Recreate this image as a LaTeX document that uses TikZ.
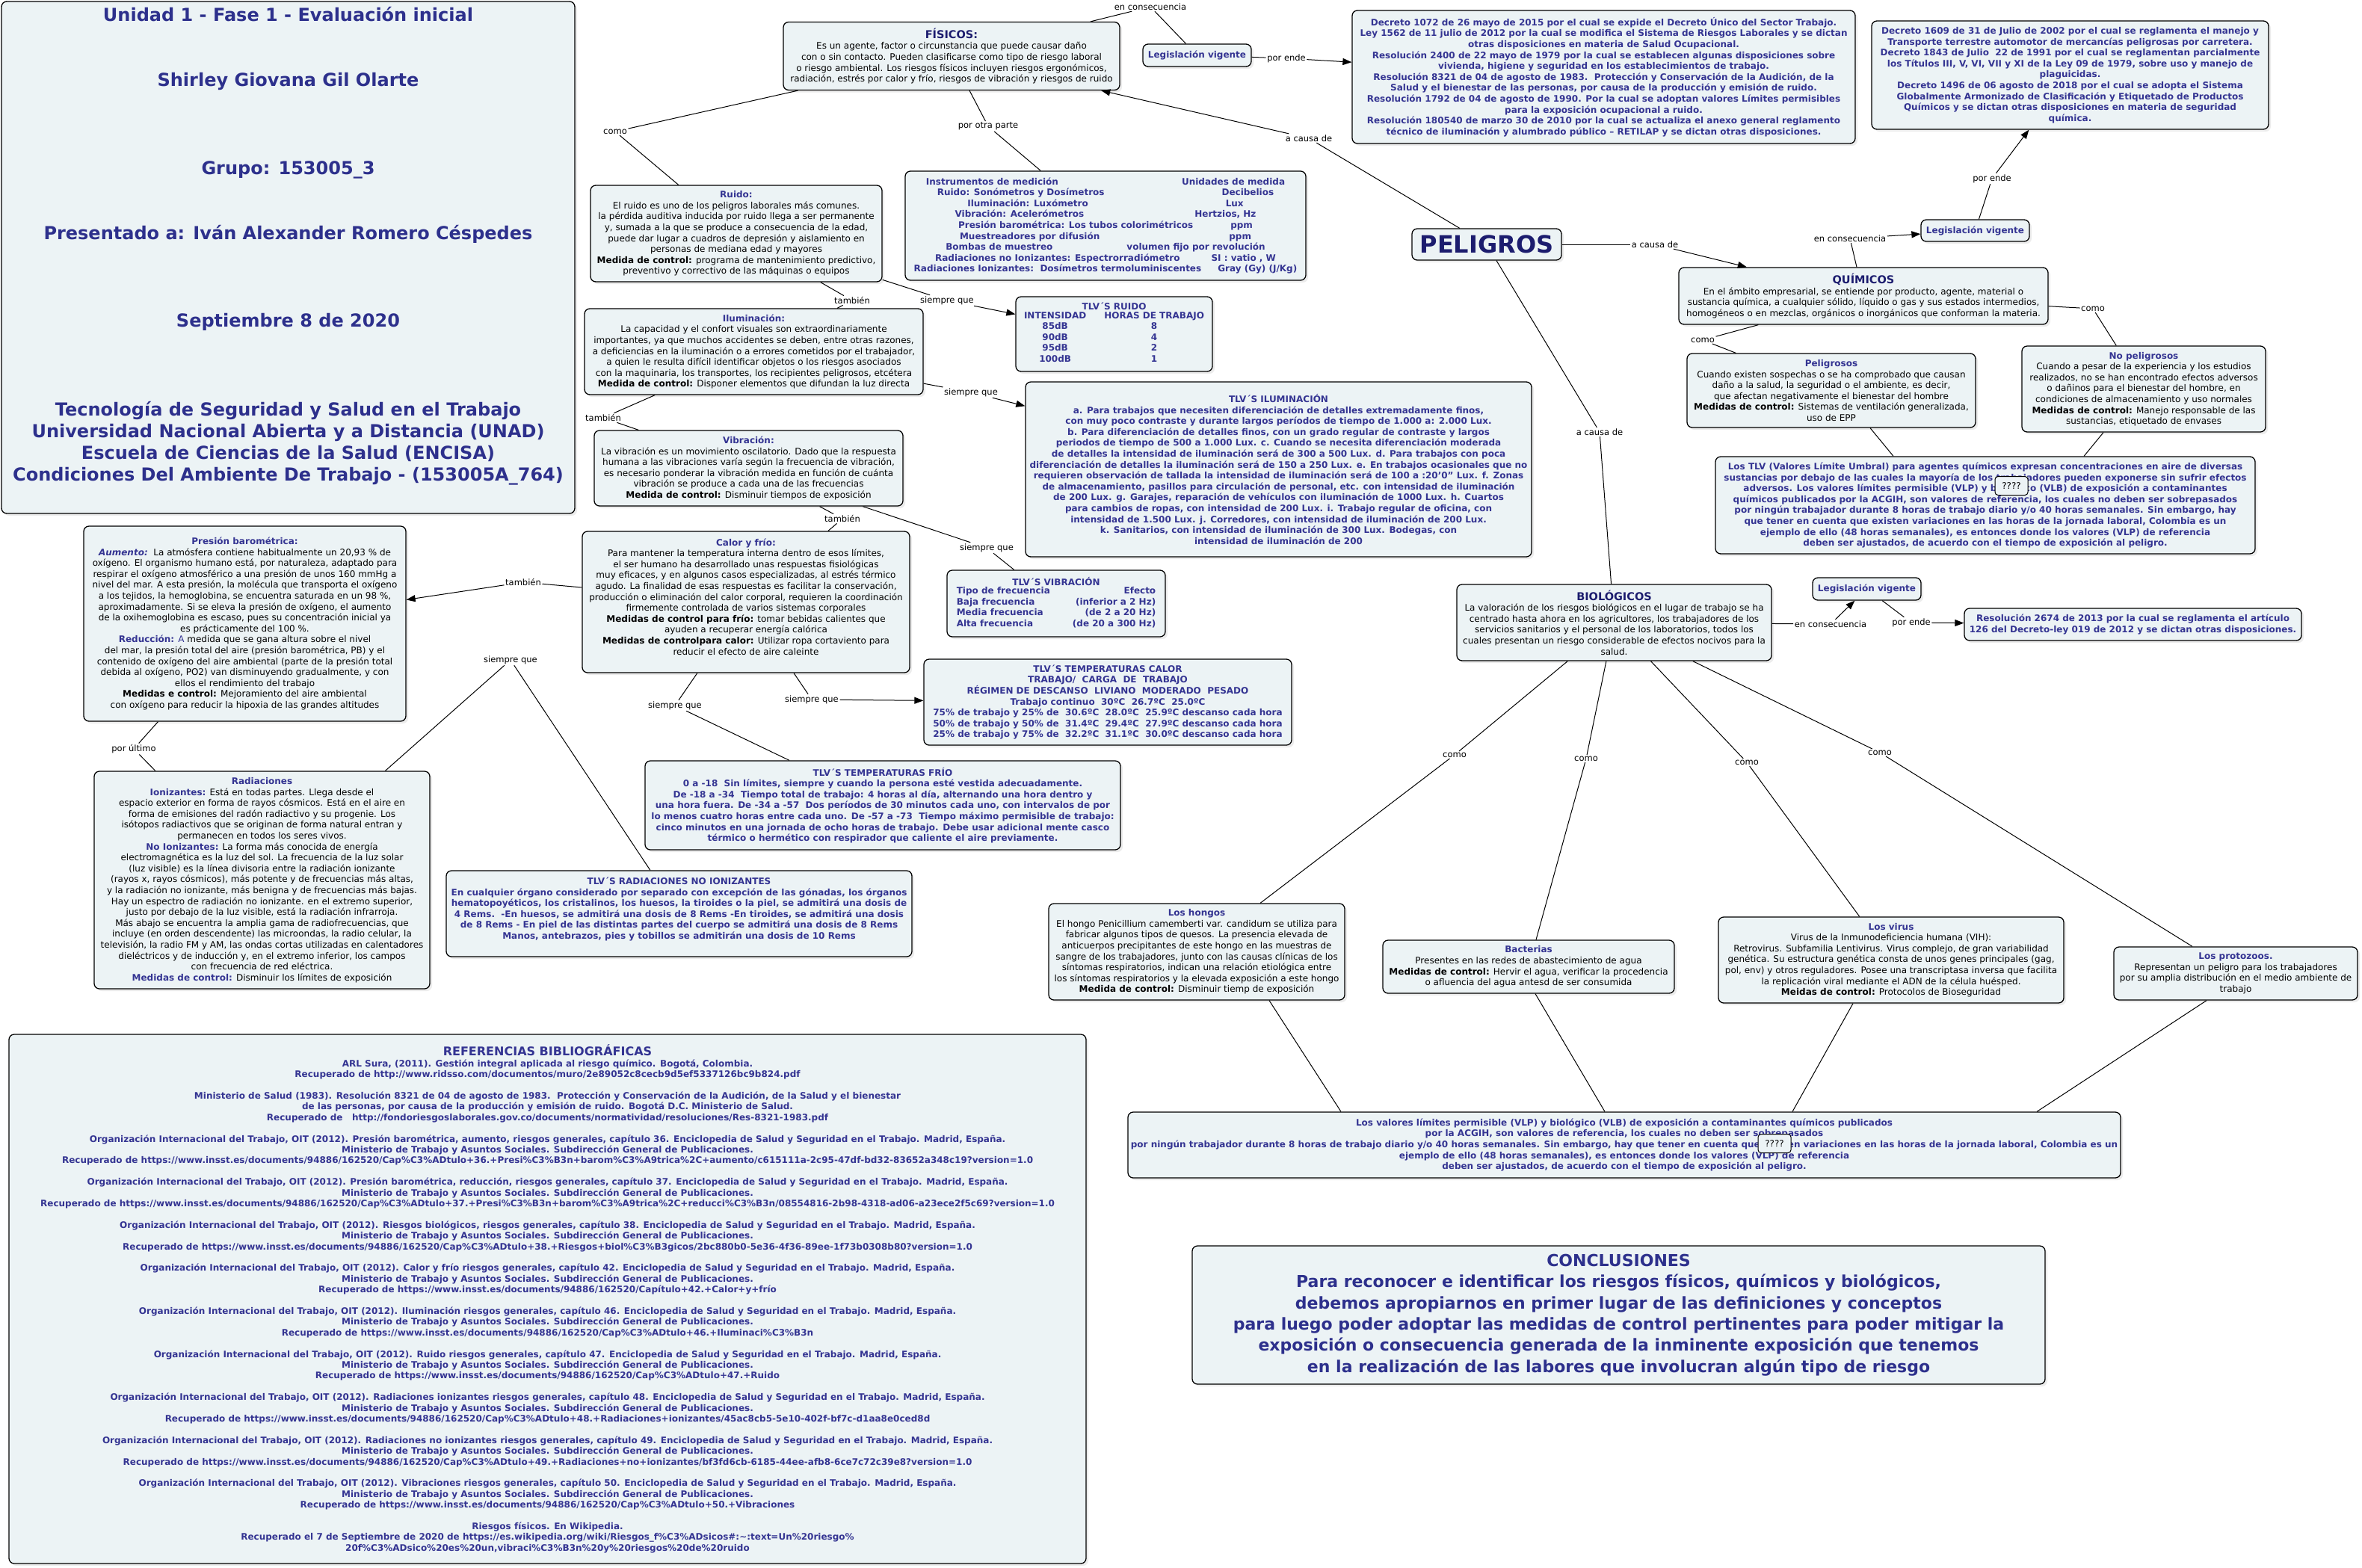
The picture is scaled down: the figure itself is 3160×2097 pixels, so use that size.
\documentclass[tikz,border=0pt]{standalone}
\usepackage{fontspec}
\setmainfont{DejaVu Sans}
\usetikzlibrary{arrows.meta,shadows}
\definecolor{boxfill}{RGB}{236,243,245}
\definecolor{navy}{RGB}{28,28,110}
\definecolor{tblue}{RGB}{52,52,146}
\definecolor{hblue}{RGB}{45,48,140}
\newcommand{\tbl}[1]{\textcolor{tblue}{\textbf{#1}}}
\newcommand{\ntit}[1]{{\fontsize{14.5}{16}\selectfont\textcolor{navy}{\textbf{#1}}}}
\tikzset{
 cbox/.style={draw=black, line width=1.3pt, rounded corners=7pt, fill=boxfill, align=center, inner sep=3pt,
   text=black, font=\fontsize{12}{14.6}\selectfont,
   drop shadow={shadow xshift=3pt, shadow yshift=-3pt, opacity=0.15}},
 bbox/.style={cbox, text=tblue, font=\fontsize{12}{14.6}\selectfont\bfseries},
 lbl/.style={font=\fontsize{11.5}{13}\selectfont, inner sep=1.5pt, text=black},
 conn/.style={draw=black, line width=1pt},
 arr/.style={conn, -{Triangle[length=12pt,width=9pt]}},
 qbox/.style={draw=black, line width=1pt, rounded corners=4pt, fill=boxfill, inner sep=2pt,
   minimum width=44pt, minimum height=25pt, font=\fontsize{12}{14}\selectfont},
}
\begin{document}
\begin{tikzpicture}[x=1pt,y=-1pt]
\fill[white] (0,0) rectangle (3160,2097);
\useasboundingbox (0,0) rectangle (3160,2097);

% ---------- header ----------
\node[cbox, minimum width=767pt, minimum height=685pt] (hdr) at (385.5,344.5) {};
\node[font=\fontsize{24}{29}\selectfont\bfseries, text=hblue, align=center] (hdrt) at (385.5,329) {Unidad 1 - Fase 1 - Evaluación inicial\\[58pt] Shirley Giovana Gil Olarte\\[89pt] Grupo: 153005\_3\\[58pt] Presentado a: Iván Alexander Romero Céspedes\\[88pt] Septiembre 8 de 2020\\[90pt] Tecnología de Seguridad y Salud en el Trabajo\\ Universidad Nacional Abierta y a Distancia (UNAD)\\ Escuela de Ciencias de la Salud (ENCISA)\\ Condiciones Del Ambiente De Trabajo - (153005A\_764)};

% ---------- central ----------
\node[cbox, minimum width=200pt, minimum height=42pt, font=\fontsize{32}{36}\selectfont\bfseries, text=navy, inner sep=2pt] (pel) at (1989,327) {PELIGROS};

% ---------- FISICOS branch ----------
\node[cbox, minimum width=450pt, minimum height=91pt] (fis) at (1273,75) {\ntit{FÍSICOS:}\\ Es un agente, factor o circunstancia que puede causar daño\\ con o sin contacto. Pueden clasificarse como tipo de riesgo laboral\\ o riesgo ambiental. Los riesgos físicos incluyen riesgos ergonómicos,\\ radiación, estrés por calor y frío, riesgos de vibración y riesgos de ruido};

\node[bbox, minimum width=145pt, minimum height=30pt] (leg1) at (1601.5,74) {Legislación vigente};

\node[bbox, minimum width=673pt, minimum height=178pt] (dec1) at (2145.5,103) {Decreto 1072 de 26 mayo de 2015 por el cual se expide el Decreto Único del Sector Trabajo.\\ Ley 1562 de 11 julio de 2012 por la cual se modifica el Sistema de Riesgos Laborales y se dictan\\ otras disposiciones en materia de Salud Ocupacional.\\ Resolución 2400 de 22 mayo de 1979 por la cual se establecen algunas disposiciones sobre\\ vivienda, higiene y seguridad en los establecimientos de trabajo.\\ Resolución 8321 de 04 de agosto de 1983.\ \ Protección y Conservación de la Audición, de la\\ Salud y el bienestar de las personas, por causa de la producción y emisión de ruido.\\ Resolución 1792 de 04 de agosto de 1990. Por la cual se adoptan valores Límites permisibles\\ para la exposición ocupacional a ruido.\\ Resolución 180540 de marzo 30 de 2010 por la cual se actualiza el anexo general reglamento\\ técnico de iluminación y alumbrado público – RETILAP y se dictan otras disposiciones.};

\node[cbox, minimum width=390pt, minimum height=129pt] (ruido) at (985,312.5) {\tbl{Ruido:}\\ El ruido es uno de los peligros laborales más comunes.\\ la pérdida auditiva inducida por ruido llega a ser permanente\\ y, sumada a la que se produce a consecuencia de la edad,\\ puede dar lugar a cuadros de depresión y aislamiento en\\ personas de mediana edad y mayores\\ \textbf{Medida de control:} programa de mantenimiento predictivo,\\ preventivo y correctivo de las máquinas o equipos};

\node[bbox, minimum width=536pt, minimum height=146pt] (instr) at (1479,302) {Instrumentos de medición\hspace{165pt}Unidades de medida\\ Ruido: Sonómetros y Dosímetros\hspace{157pt}Decibelios\\ Iluminación: Luxómetro\hspace{184pt}Lux\\ Vibración: Acelerómetros\hspace{148pt}Hertzios, Hz\\ Presión barométrica: Los tubos colorimétricos\hspace{50pt}ppm\\ Muestreadores por difusión\hspace{173pt}ppm\\ Bombas de muestreo\hspace{99pt}volumen fijo por revolución\\ Radiaciones no Ionizantes: Espectrorradiómetro\hspace{42pt}SI : vatio , W\\ Radiaciones Ionizantes:\ \ Dosímetros termoluminiscentes\hspace{22pt}Gray (Gy) (J/Kg)};

\node[bbox, minimum width=263pt, minimum height=100pt] (tlvr) at (1490.5,447) {TLV´S RUIDO\\ \begin{tabular}{@{}c@{\hspace{24pt}}c@{}}INTENSIDAD & HORAS DE TRABAJO\\ 85dB & 8\\ 90dB & 4\\ 95dB & 2\\ 100dB & 1\end{tabular}};

\node[cbox, minimum width=453pt, minimum height=115pt] (ilum) at (1008.5,470.5) {\tbl{Iluminación:}\\ La capacidad y el confort visuales son extraordinariamente\\ importantes, ya que muchos accidentes se deben, entre otras razones,\\ a deficiencias en la iluminación o a errores cometidos por el trabajador,\\ a quien le resulta difícil identificar objetos o los riesgos asociados\\ con la maquinaria, los transportes, los recipientes peligrosos, etcétera\\ \textbf{Medida de control:} Disponer elementos que difundan la luz directa};

\node[bbox, minimum width=677pt, minimum height=234pt] (tlvi) at (1710.5,628) {TLV´S ILUMINACIÓN\\ a. Para trabajos que necesiten diferenciación de detalles extremadamente finos,\\ con muy poco contraste y durante largos períodos de tiempo de 1.000 a: 2.000 Lux.\\ b. Para diferenciación de detalles finos, con un grado regular de contraste y largos\\ periodos de tiempo de 500 a 1.000 Lux. c. Cuando se necesita diferenciación moderada\\ de detalles la intensidad de iluminación será de 300 a 500 Lux. d. Para trabajos con poca\\ diferenciación de detalles la iluminación será de 150 a 250 Lux. e. En trabajos ocasionales que no\\ requieren observación de tallada la intensidad de iluminación será de 100 a :20'0" Lux. f. Zonas\\ de almacenamiento, pasillos para circulación de personal, etc. con intensidad de iluminación\\ de 200 Lux. g. Garajes, reparación de vehículos con iluminación de 1000 Lux. h. Cuartos\\ para cambios de ropas, con intensidad de 200 Lux. i. Trabajo regular de oficina, con\\ intensidad de 1.500 Lux. j. Corredores, con intensidad de iluminación de 200 Lux.\\ k. Sanitarios, con intensidad de iluminación de 300 Lux. Bodegas, con\\ intensidad de iluminación de 200};

\node[cbox, minimum width=413pt, minimum height=101pt] (vib) at (1001.5,626.5) {\tbl{Vibración:}\\ La vibración es un movimiento oscilatorio. Dado que la respuesta\\ humana a las vibraciones varía según la frecuencia de vibración,\\ es necesario ponderar la vibración medida en función de cuánta\\ vibración se produce a cada una de las frecuencias\\ \textbf{Medida de control:} Disminuir tiempos de exposición};

\node[cbox, minimum width=438pt, minimum height=189pt] (calor) at (998,805.5) {\tbl{Calor y frío:}\\ Para mantener la temperatura interna dentro de esos límites,\\ el ser humano ha desarrollado unas respuestas fisiológicas\\ muy eficaces, y en algunos casos especializadas, al estrés térmico\\ agudo. La finalidad de esas respuestas es facilitar la conservación,\\ producción o eliminación del calor corporal, requieren la coordinación\\ firmemente controlada de varios sistemas corporales\\ \textbf{Medidas de control para frío:} tomar bebidas calientes que\\ ayuden a recuperar energía calórica\\ \textbf{Medidas de controlpara calor:} Utilizar ropa cortaviento para\\ reducir el efecto de aire caleinte\\ \mbox{}};

\node[bbox, minimum width=292pt, minimum height=89pt] (tlvv) at (1413,807.5) {TLV´S VIBRACIÓN\\ \begin{tabular}{@{}l@{\hspace{30pt}}r@{}}Tipo de frecuencia & Efecto\\ Baja frecuencia & (inferior a 2 Hz)\\ Media frecuencia & (de 2 a 20 Hz)\\ Alta frecuencia & (de 20 a 300 Hz)\end{tabular}};

\node[bbox, minimum width=492pt, minimum height=115pt] (tlvc) at (1482,939.5) {TLV´S TEMPERATURAS CALOR\\ TRABAJO/\ \ CARGA\ \ DE\ \ TRABAJO\\ RÉGIMEN DE DESCANSO\ \ LIVIANO\ \ MODERADO\ \ PESADO\\ Trabajo continuo\ \ 30ºC\ \ 26.7ºC\ \ 25.0ºC\\ 75\% de trabajo y 25\% de\ \ 30.6ºC\ \ 28.0ºC\ \ 25.9ºC descanso cada hora\\ 50\% de trabajo y 50\% de\ \ 31.4ºC\ \ 29.4ºC\ \ 27.9ºC descanso cada hora\\ 25\% de trabajo y 75\% de\ \ 32.2ºC\ \ 31.1ºC\ \ 30.0ºC descanso cada hora};

\node[bbox, minimum width=636pt, minimum height=119pt] (tlvf) at (1181,1077.5) {TLV´S TEMPERATURAS FRÍO\\ 0 a -18\ \ Sin límites, siempre y cuando la persona esté vestida adecuadamente.\\ De -18 a -34\ \ Tiempo total de trabajo: 4 horas al día, alternando una hora dentro y\\ una hora fuera. De -34 a -57\ \ Dos períodos de 30 minutos cada uno, con intervalos de por\\ lo menos cuatro horas entre cada uno. De -57 a -73\ \ Tiempo máximo permisible de trabajo:\\ cinco minutos en una jornada de ocho horas de trabajo. Debe usar adicional mente casco\\ térmico o hermético con respirador que caliente el aire previamente.};

\node[cbox, minimum width=431pt, minimum height=261pt] (pres) at (327.5,834.5) {\tbl{Presión barométrica:}\\ \textcolor{tblue}{\textbf{\textit{Aumento:}}}\ \ La atmósfera contiene habitualmente un 20,93 \% de\\ oxígeno. El organismo humano está, por naturaleza, adaptado para\\ respirar el oxígeno atmosférico a una presión de unos 160 mmHg a\\ nivel del mar. A esta presión, la molécula que transporta el oxígeno\\ a los tejidos, la hemoglobina, se encuentra saturada en un 98 \%,\\ aproximadamente. Si se eleva la presión de oxígeno, el aumento\\ de la oxihemoglobina es escaso, pues su concentración inicial ya\\ es prácticamente del 100 \%.\\ \tbl{Reducción:} \textcolor{tblue}{A} medida que se gana altura sobre el nivel\\ del mar, la presión total del aire (presión barométrica, PB) y el\\ contenido de oxígeno del aire ambiental (parte de la presión total\\ debida al oxígeno, PO2) van disminuyendo gradualmente, y con\\ ellos el rendimiento del trabajo\\ \textbf{Medidas e control:} Mejoramiento del aire ambiental\\ con oxígeno para reducir la hipoxia de las grandes altitudes};

\node[cbox, minimum width=449pt, minimum height=291pt] (rad) at (350.5,1177.5) {\tbl{Radiaciones}\\ \tbl{Ionizantes:} Está en todas partes. Llega desde el\\ espacio exterior en forma de rayos cósmicos. Está en el aire en\\ forma de emisiones del radón radiactivo y su progenie. Los\\ isótopos radiactivos que se originan de forma natural entran y\\ permanecen en todos los seres vivos.\\ \tbl{No Ionizantes:} La forma más conocida de energía\\ electromagnética es la luz del sol. La frecuencia de la luz solar\\ (luz visible) es la línea divisoria entre la radiación ionizante\\ (rayos x, rayos cósmicos), más potente y de frecuencias más altas,\\ y la radiación no ionizante, más benigna y de frecuencias más bajas.\\ Hay un espectro de radiación no ionizante. en el extremo superior,\\ justo por debajo de la luz visible, está la radiación infrarroja.\\ Más abajo se encuentra la amplia gama de radiofrecuencias, que\\ incluye (en orden descendente) las microondas, la radio celular, la\\ televisión, la radio FM y AM, las ondas cortas utilizadas en calentadores\\ dieléctricos y de inducción y, en el extremo inferior, los campos\\ con frecuencia de red eléctrica.\\ \tbl{Medidas de control:} Disminuir los límites de exposición};

\node[bbox, minimum width=623pt, minimum height=115pt] (tlvn) at (908.5,1222.5) {TLV´S RADIACIONES NO IONIZANTES\\ En cualquier órgano considerado por separado con excepción de las gónadas, los órganos\\ hematopoyéticos, los cristalinos, los huesos, la tiroides o la piel, se admitirá una dosis de\\ 4 Rems.\ \ -En huesos, se admitirá una dosis de 8 Rems -En tiroides, se admitirá una dosis\\ de 8 Rems - En piel de las distintas partes del cuerpo se admitirá una dosis de 8 Rems\\ Manos, antebrazos, pies y tobillos se admitirán una dosis de 10 Rems\\ \mbox{}};

% ---------- QUIMICOS branch ----------
\node[cbox, minimum width=494pt, minimum height=76pt] (qui) at (2493,396) {\ntit{QUÍMICOS}\\ En el ámbito empresarial, se entiende por producto, agente, material o\\ sustancia química, a cualquier sólido, líquido o gas y sus estados intermedios,\\ homogéneos o en mezclas, orgánicos o inorgánicos que conforman la materia.};

\node[bbox, minimum width=145pt, minimum height=29pt] (leg2) at (2642.5,308.5) {Legislación vigente};

\node[bbox, minimum width=531pt, minimum height=145pt] (dec2) at (2769.5,100.5) {Decreto 1609 de 31 de Julio de 2002 por el cual se reglamenta el manejo y\\ Transporte terrestre automotor de mercancías peligrosas por carretera.\\ Decreto 1843 de Julio\ \ 22 de 1991 por el cual se reglamentan parcialmente\\ los Títulos III, V, VI, VII y XI de la Ley 09 de 1979, sobre uso y manejo de\\ plaguicidas.\\ Decreto 1496 de 06 agosto de 2018 por el cual se adopta el Sistema\\ Globalmente Armonizado de Clasificación y Etiquetado de Productos\\ Químicos y se dictan otras disposiciones en materia de seguridad\\ química.};

\node[cbox, minimum width=386pt, minimum height=99pt] (pelq) at (2450,522.5) {\tbl{Peligrosos}\\ Cuando existen sospechas o se ha comprobado que causan\\ daño a la salud, la seguridad o el ambiente, es decir,\\ que afectan negativamente el bienestar del hombre\\ \textbf{Medidas de control:} Sistemas de ventilación generalizada,\\ uso de EPP};

\node[cbox, minimum width=326pt, minimum height=115pt] (nopel) at (2868,520.5) {\tbl{No peligrosos}\\ Cuando a pesar de la experiencia y los estudios\\ realizados, no se han encontrado efectos adversos\\ o dañinos para el bienestar del hombre, en\\ condiciones de almacenamiento y uso normales\\ \textbf{Medidas de control:} Manejo responsable de las\\ sustancias, etiquetado de envases};

\node[bbox, minimum width=722pt, minimum height=130pt] (tlvq) at (2656,676) {Los TLV (Valores Límite Umbral) para agentes químicos expresan concentraciones en aire de diversas\\ sustancias por debajo de las cuales la mayoría de los trabajadores pueden exponerse sin sufrir efectos\\ adversos. Los valores límites permisible (VLP) y biológico (VLB) de exposición a contaminantes\\ químicos publicados por la ACGIH, son valores de referencia, los cuales no deben ser sobrepasados\\ por ningún trabajador durante 8 horas de trabajo diario y/o 40 horas semanales. Sin embargo, hay\\ que tener en cuenta que existen variaciones en las horas de la jornada laboral, Colombia es un\\ ejemplo de ello (48 horas semanales), es entonces donde los valores (VLP) de referencia\\ deben ser ajustados, de acuerdo con el tiempo de exposición al peligro.};
\node[qbox] (q1) at (2691,650) {????};

% ---------- BIOLOGICOS branch ----------
\node[cbox, minimum width=421pt, minimum height=102pt] (bio) at (2159.5,833) {\ntit{BIOLÓGICOS}\\ La valoración de los riesgos biológicos en el lugar de trabajo se ha\\ centrado hasta ahora en los agricultores, los trabajadores de los\\ servicios sanitarios y el personal de los laboratorios, todos los\\ cuales presentan un riesgo considerable de efectos nocivos para la\\ salud.};

\node[bbox, minimum width=145pt, minimum height=30pt] (leg3) at (2497.5,788) {Legislación vigente};

\node[bbox, minimum width=451pt, minimum height=43pt] (res) at (2853.5,835.5) {Resolución 2674 de 2013 por la cual se reglamenta el artículo\\ 126 del Decreto-ley 019 de 2012 y se dictan otras disposiciones.};

\node[cbox, minimum width=396pt, minimum height=129pt] (hon) at (1601,1273.5) {\tbl{Los hongos}\\ El hongo Penicillium camemberti var. candidum se utiliza para\\ fabricar algunos tipos de quesos. La presencia elevada de\\ anticuerpos precipitantes de este hongo en las muestras de\\ sangre de los trabajadores, junto con las causas clínicas de los\\ síntomas respiratorios, indican una relación etiológica entre\\ los síntomas respiratorios y la elevada exposición a este hongo\\ \textbf{Medida de control:} Disminuir tiemp de exposición};

\node[cbox, minimum width=390pt, minimum height=71pt] (bac) at (2045,1293.5) {\tbl{Bacterias}\\ Presentes en las redes de abastecimiento de agua\\ \textbf{Medidas de control:} Hervir el agua, verificar la procedencia\\ o afluencia del agua antesd de ser consumida};

\node[cbox, minimum width=462pt, minimum height=115pt] (vir) at (2530,1284.5) {\tbl{Los virus}\\ Virus de la Inmunodeficiencia humana (VIH):\\ Retrovirus. Subfamilia Lentivirus. Virus complejo, de gran variabilidad\\ genética. Su estructura genética consta de unos genes principales (gag,\\ pol, env) y otros reguladores. Posee una transcriptasa inversa que facilita\\ la replicación viral mediante el ADN de la célula huésped.\\ \textbf{Meidas de control:} Protocolos de Bioseguridad};

\node[cbox, minimum width=326pt, minimum height=71pt] (pro) at (2991,1302.5) {\tbl{Los protozoos.}\\ Representan un peligro para los trabajadores\\ por su amplia distribución en el medio ambiente de\\ trabajo};

\node[bbox, minimum width=1328pt, minimum height=88pt] (vlp) at (2173,1532) {Los valores límites permisible (VLP) y biológico (VLB) de exposición a contaminantes químicos publicados\\ por la ACGIH, son valores de referencia, los cuales no deben ser sobrepasados\\ por ningún trabajador durante 8 horas de trabajo diario y/o 40 horas semanales. Sin embargo, hay que tener en cuenta que existen variaciones en las horas de la jornada laboral, Colombia es un\\ ejemplo de ello (48 horas semanales), es entonces donde los valores (VLP) de referencia\\ deben ser ajustados, de acuerdo con el tiempo de exposición al peligro.};
\node[qbox] (q2) at (2374,1530) {????};

% ---------- conclusions & references ----------
\node[bbox, minimum width=1141pt, minimum height=185pt, font=\fontsize{22}{28.3}\selectfont\bfseries, text=hblue] (conc) at (2165.5,1759.5) {CONCLUSIONES\\ Para reconocer e identificar los riesgos físicos, químicos y biológicos,\\ debemos apropiarnos en primer lugar de las definiciones y conceptos\\ para luego poder adoptar las medidas de control pertinentes para poder mitigar la\\ exposición o consecuencia generada de la inminente exposición que tenemos\\ en la realización de las labores que involucran algún tipo de riesgo};

\node[bbox, minimum width=1441pt, minimum height=708pt, font=\fontsize{12}{14.4}\selectfont\bfseries] (refs) at (732.5,1738) {{\fontsize{16}{18}\selectfont REFERENCIAS BIBLIOGRÁFICAS}\\
ARL Sura, (2011). Gestión integral aplicada al riesgo químico. Bogotá, Colombia.\\
Recuperado de http://www.ridsso.com/documentos/muro/2e89052c8cecb9d5ef5337126bc9b824.pdf\\[14.4pt]
Ministerio de Salud (1983). Resolución 8321 de 04 de agosto de 1983.\ \ Protección y Conservación de la Audición, de la Salud y el bienestar\\
de las personas, por causa de la producción y emisión de ruido. Bogotá D.C. Ministerio de Salud.\\
Recuperado de\ \ \ http://fondoriesgoslaborales.gov.co/documents/normatividad/resoluciones/Res-8321-1983.pdf\\[14.4pt]
Organización Internacional del Trabajo, OIT (2012). Presión barométrica, aumento, riesgos generales, capítulo 36. Enciclopedia de Salud y Seguridad en el Trabajo. Madrid, España.\\
Ministerio de Trabajo y Asuntos Sociales. Subdirección General de Publicaciones.\\
Recuperado de https://www.insst.es/documents/94886/162520/Cap\%C3\%ADtulo+36.+Presi\%C3\%B3n+barom\%C3\%A9trica\%2C+aumento/c615111a-2c95-47df-bd32-83652a348c19?version=1.0\\[14.4pt]
Organización Internacional del Trabajo, OIT (2012). Presión barométrica, reducción, riesgos generales, capítulo 37. Enciclopedia de Salud y Seguridad en el Trabajo. Madrid, España.\\
Ministerio de Trabajo y Asuntos Sociales. Subdirección General de Publicaciones.\\
Recuperado de https://www.insst.es/documents/94886/162520/Cap\%C3\%ADtulo+37.+Presi\%C3\%B3n+barom\%C3\%A9trica\%2C+reducci\%C3\%B3n/08554816-2b98-4318-ad06-a23ece2f5c69?version=1.0\\[14.4pt]
Organización Internacional del Trabajo, OIT (2012). Riesgos biológicos, riesgos generales, capítulo 38. Enciclopedia de Salud y Seguridad en el Trabajo. Madrid, España.\\
Ministerio de Trabajo y Asuntos Sociales. Subdirección General de Publicaciones.\\
Recuperado de https://www.insst.es/documents/94886/162520/Cap\%C3\%ADtulo+38.+Riesgos+biol\%C3\%B3gicos/2bc880b0-5e36-4f36-89ee-1f73b0308b80?version=1.0\\[14.4pt]
Organización Internacional del Trabajo, OIT (2012). Calor y frío riesgos generales, capítulo 42. Enciclopedia de Salud y Seguridad en el Trabajo. Madrid, España.\\
Ministerio de Trabajo y Asuntos Sociales. Subdirección General de Publicaciones.\\
Recuperado de https://www.insst.es/documents/94886/162520/Capítulo+42.+Calor+y+frío\\[14.4pt]
Organización Internacional del Trabajo, OIT (2012). Iluminación riesgos generales, capítulo 46. Enciclopedia de Salud y Seguridad en el Trabajo. Madrid, España.\\
Ministerio de Trabajo y Asuntos Sociales. Subdirección General de Publicaciones.\\
Recuperado de https://www.insst.es/documents/94886/162520/Cap\%C3\%ADtulo+46.+Iluminaci\%C3\%B3n\\[14.4pt]
Organización Internacional del Trabajo, OIT (2012). Ruido riesgos generales, capítulo 47. Enciclopedia de Salud y Seguridad en el Trabajo. Madrid, España.\\
Ministerio de Trabajo y Asuntos Sociales. Subdirección General de Publicaciones.\\
Recuperado de https://www.insst.es/documents/94886/162520/Cap\%C3\%ADtulo+47.+Ruido\\[14.4pt]
Organización Internacional del Trabajo, OIT (2012). Radiaciones ionizantes riesgos generales, capítulo 48. Enciclopedia de Salud y Seguridad en el Trabajo. Madrid, España.\\
Ministerio de Trabajo y Asuntos Sociales. Subdirección General de Publicaciones.\\
Recuperado de https://www.insst.es/documents/94886/162520/Cap\%C3\%ADtulo+48.+Radiaciones+ionizantes/45ac8cb5-5e10-402f-bf7c-d1aa8e0ced8d\\[14.4pt]
Organización Internacional del Trabajo, OIT (2012). Radiaciones no ionizantes riesgos generales, capítulo 49. Enciclopedia de Salud y Seguridad en el Trabajo. Madrid, España.\\
Ministerio de Trabajo y Asuntos Sociales. Subdirección General de Publicaciones.\\
Recuperado de https://www.insst.es/documents/94886/162520/Cap\%C3\%ADtulo+49.+Radiaciones+no+ionizantes/bf3fd6cb-6185-44ee-afb8-6ce7c72c39e8?version=1.0\\[14.4pt]
Organización Internacional del Trabajo, OIT (2012). Vibraciones riesgos generales, capítulo 50. Enciclopedia de Salud y Seguridad en el Trabajo. Madrid, España.\\
Ministerio de Trabajo y Asuntos Sociales. Subdirección General de Publicaciones.\\
Recuperado de https://www.insst.es/documents/94886/162520/Cap\%C3\%ADtulo+50.+Vibraciones\\[14.4pt]
Riesgos físicos. En Wikipedia.\\
Recuperado el 7 de Septiembre de 2020 de https://es.wikipedia.org/wiki/Riesgos\_f\%C3\%ADsicos\#:\textasciitilde:text=Un\%20riesgo\%\\
20f\%C3\%ADsico\%20es\%20un,vibraci\%C3\%B3n\%20y\%20riesgos\%20de\%20ruido};

% ---------- linking phrases ----------
\node[lbl] (l1) at (1539,9) {en consecuencia};
\node[lbl] (l2) at (1721,78) {por ende};
\node[lbl] (l3) at (1751,185) {a causa de};
\node[lbl] (l4) at (823,176) {como};
\node[lbl] (l5) at (1322,169) {por otra parte};
\node[lbl] (l6) at (1140,402) {también};
\node[lbl] (l7) at (1267,402) {siempre que};
\node[lbl] (l8) at (1299,525) {siempre que};
\node[lbl] (l9) at (807,559) {también};
\node[lbl] (l10) at (1127,694) {también};
\node[lbl] (l11) at (1320,733) {siempre que};
\node[lbl] (l12) at (700,779) {también};
\node[lbl] (l13) at (1086,936) {siempre que};
\node[lbl] (l14) at (903,944) {siempre que};
\node[lbl] (l15) at (179,1002) {por último};
\node[lbl] (l16) at (683,883) {siempre que};
\node[lbl] (l17) at (2214,327) {a causa de};
\node[lbl] (l18) at (2475,319) {en consecuencia};
\node[lbl] (l19) at (2665,239) {por ende};
\node[lbl] (l20) at (2278,455) {como};
\node[lbl] (l21) at (2800,413) {como};
\node[lbl] (l22) at (2140,578) {a causa de};
\node[lbl] (l23) at (2449,835) {en consecuencia};
\node[lbl] (l24) at (2557,833) {por ende};
\node[lbl] (l25) at (1946,1010) {como};
\node[lbl] (l26) at (2122,1015) {como};
\node[lbl] (l27) at (2337,1020) {como};
\node[lbl] (l28) at (2515,1007) {como};

% ---------- connectors ----------
\draw[conn] (fis) -- (l1); \draw[conn] (l1) -- (leg1);
\draw[conn] (leg1) -- (l2); \draw[arr] (l2) -- (dec1);
\draw[conn] (pel) -- (l3); \draw[arr] (l3) -- (fis);
\draw[conn] (fis) -- (l4); \draw[conn] (l4) -- (ruido);
\draw[conn] (fis) -- (l5); \draw[conn] (l5) -- (instr);
\draw[conn] (ruido) -- (l6); \draw[conn] (l6) -- (ilum);
\draw[conn] (ruido) -- (l7); \draw[arr] (l7) -- (tlvr);
\draw[conn] (ilum) -- (l8); \draw[arr] (l8) -- (tlvi);
\draw[conn] (ilum) -- (l9); \draw[conn] (l9) -- (vib);
\draw[conn] (vib) -- (l10); \draw[conn] (l10) -- (calor);
\draw[conn] (vib) -- (l11); \draw[conn] (l11) -- (tlvv);
\draw[conn] (calor) -- (l12); \draw[arr] (l12) -- (pres);
\draw[conn] (calor) -- (l13); \draw[arr] (l13) -- (tlvc);
\draw[conn] (calor) -- (l14); \draw[conn] (l14) -- (tlvf);
\draw[conn] (pres) -- (l15); \draw[conn] (l15) -- (rad);
\draw[conn] (rad) -- (l16); \draw[conn] (l16) -- (tlvn);
\draw[conn] (pel) -- (l17); \draw[arr] (l17) -- (qui);
\draw[conn] (qui) -- (l18); \draw[arr] (l18) -- (leg2);
\draw[conn] (leg2) -- (l19); \draw[arr] (l19) -- (dec2);
\draw[conn] (qui) -- (l20); \draw[conn] (l20) -- (pelq);
\draw[conn] (qui) -- (l21); \draw[conn] (l21) -- (nopel);
\draw[conn] ([xshift=52pt]pelq.south) -- ([xshift=-123pt]tlvq.north);
\draw[conn] ([xshift=-54pt]nopel.south) -- ([xshift=132pt]tlvq.north);
\draw[conn] (pel) -- (l22); \draw[conn] (l22) -- (bio);
\draw[conn] (bio) -- (l23); \draw[arr] (l23) -- (leg3);
\draw[conn] (leg3) -- (l24); \draw[arr] (l24) -- (res);
\draw[conn] (bio) -- (l25); \draw[conn] (l25) -- (hon);
\draw[conn] (bio) -- (l26); \draw[conn] (l26) -- (bac);
\draw[conn] (bio) -- (l27); \draw[conn] (l27) -- (vir);
\draw[conn] (bio) -- (l28); \draw[conn] (l28) -- (pro);
\draw[conn] ([xshift=97pt]hon.south) -- ([xshift=-379pt]vlp.north);
\draw[conn] ([xshift=9pt]bac.south) -- ([xshift=-26pt]vlp.north);
\draw[conn] ([xshift=-51pt]vir.south) -- ([xshift=225pt]vlp.north);
\draw[conn] ([xshift=-39pt]pro.south) -- ([xshift=552pt]vlp.north);
\end{tikzpicture}
\end{document}
